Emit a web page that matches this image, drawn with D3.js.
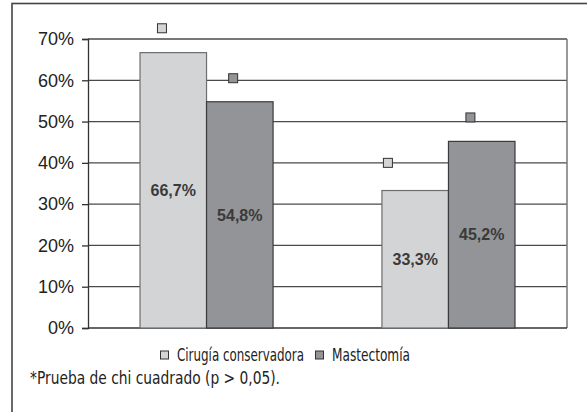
<!DOCTYPE html>
<html><head><meta charset="utf-8">
<script src="https://cdn.jsdelivr.net/npm/d3@7"></script>
<style>body{margin:0;background:#fff}svg{display:block}</style>
</head><body>
<svg id="c" width="587" height="412"></svg>
<script>
const groups = ["G1", "G2"];
const seriesNames = ["Cirugía conservadora", "Mastectomía"];
const barValues = [[66.7, 54.8], [33.3, 45.2]];
const barLabels = [["66,7%", "54,8%"], ["33,3%", "45,2%"]];
const markerValues = [[72.6, 60.5], [40.0, 51.0]];
const markerOffset = [[0.33, 0.40], [0.09, 0.33]];
const yTicks = [0, 10, 20, 30, 40, 50, 60, 70];
const footnote = "*Prueba de chi cuadrado (p > 0,05).";
const fills = ["#d3d4d6", "#939497"];
const strokes = ["#6d6e70", "#3a3a3c"];

const svg = d3.select("#c");
const L = 88, R = 567, T = 39, B = 328;
const y = d3.scaleLinear().domain([0, 70]).range([B, T]);
const x = d3.scaleBand().domain(groups).range([L, R]).paddingInner(0.45).paddingOuter(0.215);
const xs = d3.scaleBand().domain(seriesNames).range([0, x.bandwidth()]);
const narrow = "'DejaVu Sans Condensed', 'Liberation Sans Narrow', sans-serif";

// outer frame
svg.append("rect").attr("x", 12).attr("y", 3.5).attr("width", 590).attr("height", 420)
  .attr("fill", "none").attr("stroke", "#444").attr("stroke-width", 1.6);

// gridlines
svg.append("g").selectAll("line").data(yTicks.filter(d => d > 0)).join("line")
  .attr("x1", L).attr("x2", R).attr("y1", d => y(d)).attr("y2", d => y(d))
  .attr("stroke", "#4a4a4a").attr("stroke-width", 1.3);

// right border
svg.append("line").attr("x1", R).attr("x2", R).attr("y1", T).attr("y2", B)
  .attr("stroke", "#777").attr("stroke-width", 1.5);

// y axis
const ax = svg.append("g").attr("transform", `translate(${L},0)`)
  .call(d3.axisLeft(y).tickValues(yTicks).tickFormat(d => d + "%").tickSize(6).tickPadding(8));
ax.select(".domain").attr("stroke", "#333").attr("stroke-width", 1.3);
ax.selectAll(".tick line").attr("stroke", "#333").attr("stroke-width", 1.3);
ax.selectAll("text").attr("font-family", "Liberation Sans, Arial, sans-serif")
  .attr("font-size", 18).attr("fill", "#222");

// x baseline
svg.append("line").attr("x1", L).attr("x2", R).attr("y1", B).attr("y2", B)
  .attr("stroke", "#333").attr("stroke-width", 1.3);

// bars
const gs = svg.append("g").selectAll("g").data(groups).join("g")
  .attr("transform", d => `translate(${x(d)},0)`);
gs.each(function (g, gi) {
  const sel = d3.select(this);
  seriesNames.forEach((s, si) => {
    const v = barValues[gi][si];
    sel.append("rect").attr("x", xs(s)).attr("y", y(v))
      .attr("width", xs.bandwidth()).attr("height", y(0) - y(v))
      .attr("fill", fills[si]).attr("stroke", strokes[si]).attr("stroke-width", 1.2);
    sel.append("text").attr("x", xs(s) + xs.bandwidth() / 2).attr("y", (y(v) + y(0)) / 2)
      .attr("dy", "0.36em").attr("text-anchor", "middle")
      .attr("font-family", "Liberation Sans, Arial, sans-serif").attr("font-size", 16)
      .attr("font-weight", "bold").attr("fill", "#3a3a3a").text(barLabels[gi][si]);
    const mv = markerValues[gi][si];
    const mx = xs(s) + markerOffset[gi][si] * xs.bandwidth();
    sel.append("rect").attr("x", mx - 4.5).attr("y", y(mv) - 4.5).attr("width", 9).attr("height", 9)
      .attr("fill", fills[si]).attr("stroke", "#333").attr("stroke-width", 1);
  });
});

// legend
const legendX = [160, 315];
const legendW = [127, 78];
const leg = svg.append("g").selectAll("g").data(seriesNames).join("g")
  .attr("transform", (d, i) => `translate(${legendX[i]},351)`);
leg.append("rect").attr("x", 0.5).attr("y", 0).attr("width", 8).attr("height", 8)
  .attr("fill", (d, i) => fills[i]).attr("stroke", "#333").attr("stroke-width", 1);
leg.append("text").attr("x", 17).attr("y", 4).attr("dy", "0.36em")
  .attr("font-family", narrow).attr("font-size", 17).attr("fill", "#222")
  .attr("textLength", (d, i) => legendW[i]).attr("lengthAdjust", "spacingAndGlyphs")
  .text(d => d);

// footnote
svg.append("text").attr("x", 30).attr("y", 378).attr("dy", "0.36em")
  .attr("font-family", narrow).attr("font-size", 17).attr("fill", "#222")
  .attr("textLength", 250).attr("lengthAdjust", "spacingAndGlyphs").text(footnote);
</script>
</body></html>
